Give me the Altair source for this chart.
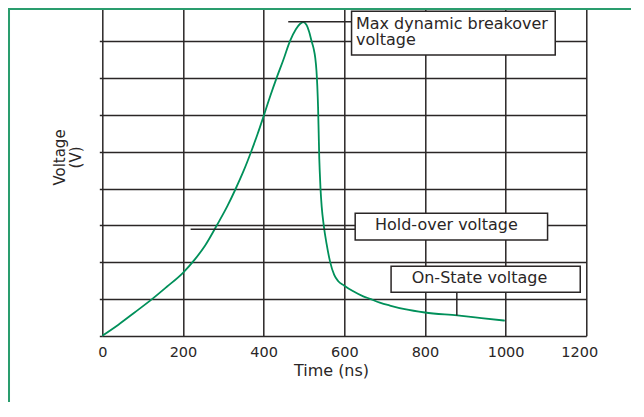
import altair as alt
import pandas as pd

# ---- curve data (time in ns, voltage in grid units) ----
time_ns = [0, 40, 80, 124, 160, 200, 230, 255, 284, 310, 331, 350, 369, 385, 401, 416,
           432, 449, 465, 480, 490, 498, 506, 513, 519, 524, 528, 531, 533, 535, 536.5,
           538, 539, 541, 544, 549, 556, 565, 575, 585, 600, 620, 647, 664, 688, 713,
           750, 800, 880, 940, 998]
voltage = [0, 0.3, 0.63, 1.0, 1.33, 1.71, 2.08, 2.45, 3.0, 3.52, 4.0, 4.47, 5.0, 5.48, 6.0, 6.5,
           7.0, 7.5, 8.0, 8.33, 8.47, 8.52, 8.45, 8.25, 8.0, 7.8, 7.55, 7.2, 6.8, 6.2, 5.5,
           4.8, 4.5, 4.0, 3.5, 3.0, 2.5, 2.0, 1.65, 1.48, 1.36, 1.22, 1.07, 1.0, 0.9, 0.82,
           0.72, 0.63, 0.55, 0.48, 0.41]

x_ticks = [0, 200, 400, 600, 800, 1000, 1200]
y_grid = [0, 1, 2, 3, 4, 5, 6, 7, 8]

# ---- annotation boxes (data units) ----
box_x1 = [618, 627, 716]
box_x2 = [1123, 1104, 1185]
box_y1 = [8.82, 3.33, 1.89]
box_y2 = [7.63, 2.60, 1.18]

label_text = ["Max dynamic breakover", "voltage", "Hold-over voltage", "On-State voltage"]
label_x = [629, 629, 676, 767]
label_y = [8.33, 7.90, 2.86, 1.42]

leader_x1 = [461, 219, 879]
leader_x2 = [618, 627, 879]
leader_y1 = [8.53, 2.89, 1.18]
leader_y2 = [8.53, 2.89, 0.55]

DARK = "#2a2626"
GREEN = "#00905a"
BORDER = "#2a9d6e"
FONT = "DejaVu Sans"

curve = pd.DataFrame({"t": time_ns, "v": voltage})
boxes = pd.DataFrame({"x1": box_x1, "x2": box_x2, "y1": box_y1, "y2": box_y2})
labels = pd.DataFrame({"x": label_x, "y": label_y, "text": label_text})
leaders = pd.DataFrame({"x1": leader_x1, "x2": leader_x2, "y1": leader_y1, "y2": leader_y2})

xs = alt.Scale(domain=[0, 1200], nice=False, zero=True)
ys = alt.Scale(domain=[0, 8.878], nice=False, zero=True)

x_axis = alt.Axis(
    values=x_ticks, format="d", grid=True, gridColor=DARK, gridWidth=1.5, gridOpacity=1,
    ticks=False, domain=False, labelFlush=False,
    labelFont=FONT, labelFontSize=14.5, labelColor=DARK,
    labelBaseline="alphabetic", labelPadding=21,
    labelOffset={"condition": {"test": "datum.value == 1200", "value": -7}, "value": 0},
    title="Time (ns)", titleFont=FONT, titleFontSize=16, titleFontWeight="normal",
    titleColor=DARK, titleX=228.7, titleY=40.3, titleBaseline="alphabetic",
    titleAlign="center",
)
y_axis = alt.Axis(
    values=y_grid, grid=True, gridColor=DARK, gridWidth=1.5, gridOpacity=1,
    ticks=True, tickSize=3, tickWidth=1.5, tickColor=DARK,
    labels=False, domain=False,
    title=["Voltage", "(V)"], titleFont=FONT, titleFontSize=15, titleFontWeight="normal",
    titleColor=DARK, titleX=-43, titleY=148, titleAngle=270,
    titleAlign="center", titleBaseline="middle", titleLineHeight=16,
)

line = alt.Chart(curve).mark_line(color=GREEN, strokeWidth=1.8, interpolate="monotone").encode(
    x=alt.X("t:Q", scale=xs, axis=x_axis),
    y=alt.Y("v:Q", scale=ys, axis=y_axis),
)

lead = alt.Chart(leaders).mark_rule(color=DARK, strokeWidth=1.5).encode(
    x=alt.X("x1:Q", scale=xs, axis=x_axis), x2="x2:Q",
    y=alt.Y("y1:Q", scale=ys, axis=y_axis), y2="y2:Q",
)

box = alt.Chart(boxes).mark_rect(fill="white", stroke=DARK, strokeWidth=1.5).encode(
    x=alt.X("x1:Q", scale=xs, axis=x_axis), x2="x2:Q",
    y=alt.Y("y1:Q", scale=ys, axis=y_axis), y2="y2:Q",
)

text = alt.Chart(labels).mark_text(
    align="left", baseline="alphabetic", font=FONT, fontSize=16, color=DARK
).encode(
    x=alt.X("x:Q", scale=xs, axis=x_axis),
    y=alt.Y("y:Q", scale=ys, axis=y_axis),
    text="text:N",
)

frame = alt.Chart(pd.DataFrame({"k": [0]})).mark_rect(
    fillOpacity=0, stroke=BORDER, strokeWidth=2
).encode(
    x=alt.value(-93.3), x2=alt.value(700), y=alt.value(0), y2=alt.value(600)
)

chart = alt.layer(line, lead, box, text, frame).properties(
    width=484, height=326.7,
    autosize=alt.AutoSizeParams(type="none"),
    padding={"left": 94.3, "top": 1, "right": 45, "bottom": 66},
    background="white",
).configure_view(strokeWidth=0)

chart.save("out.html", embed_options={"renderer": "svg", "actions": False})
